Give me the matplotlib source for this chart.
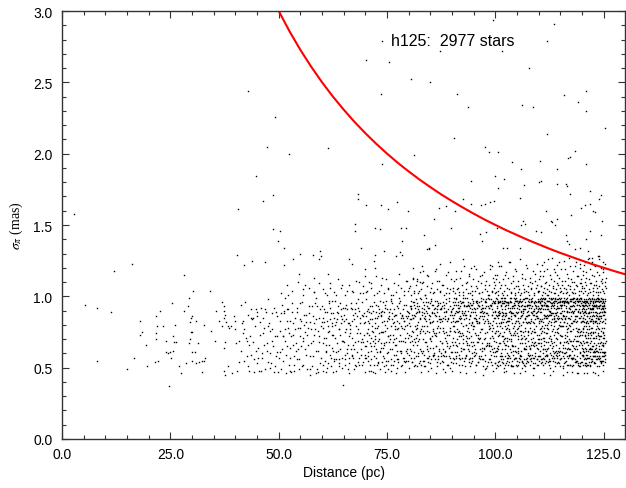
import matplotlib.pyplot as plt
import numpy as np
from matplotlib.ticker import MultipleLocator, FormatStrFormatter

plt.rcParams['font.family'] = ['Liberation Sans', 'DejaVu Sans']
plt.rcParams['mathtext.fontset'] = 'stix'

# sparse stars read one by one: (distance pc, sigma_pi mas)
near_stars = [
    (2.8, 1.58), (5.4, 0.94), (8.0, 0.92), (8.1, 0.55), (11.3, 0.89), (12.1, 1.18),
    (15.1, 0.49), (16.1, 1.23), (16.7, 0.57), (18.0, 0.83), (18.1, 0.73), (18.4, 0.75),
    (19.4, 0.66), (19.5, 0.51), (21.4, 0.54), (21.6, 0.86), (21.7, 0.70), (21.7, 0.74),
    (21.9, 0.79), (22.1, 0.55), (22.6, 0.90), (23.2, 0.79), (23.9, 0.69), (24.1, 0.61),
    (24.5, 0.60), (24.7, 0.37), (24.9, 0.61), (25.1, 0.57), (25.4, 0.95), (25.5, 0.62),
    (25.7, 0.72), (25.9, 0.68), (26.0, 0.80), (26.4, 0.68), (26.9, 0.51), (27.4, 0.46),
    (28.1, 1.15), (28.1, 0.90), (28.7, 0.53), (29.1, 0.93), (29.3, 0.99), (29.4, 0.67),
    (29.5, 0.82), (29.5, 0.70), (29.7, 0.85), (29.7, 0.75), (30.0, 0.75), (30.1, 0.86),
    (30.1, 0.61), (30.1, 0.55), (30.3, 1.04), (30.7, 0.61), (30.9, 0.53), (31.0, 0.83),
    (31.4, 0.67), (31.6, 0.54), (32.3, 0.55), (32.3, 0.47), (32.7, 0.80), (32.8, 0.55),
    (33.1, 0.57), (34.1, 1.04), (34.3, 0.76), (35.3, 0.69), (35.5, 0.90), (36.3, 0.83),
    (36.9, 0.79), (37.0, 0.96), (37.3, 0.93), (37.3, 0.90), (37.3, 0.85), (37.3, 0.64),
    (37.4, 0.48), (37.6, 0.87), (37.6, 0.45), (37.7, 0.68), (37.9, 0.82), (38.2, 0.79),
    (38.3, 0.51), (38.6, 0.78), (39.0, 0.79), (39.3, 0.46), (39.7, 0.86), (39.9, 0.83),
    (40.0, 0.77), (40.2, 0.67), (40.3, 0.48), (40.8, 0.69), (40.8, 0.54), (40.3, 1.29),
    (40.7, 1.61),
]

# stars above the main cloud, read one by one
high_stars = [
    (42.9, 2.44), (49.1, 2.26), (47.3, 2.05), (52.3, 2.00), (61.4, 2.04), (44.7, 1.84),
    (99.4, 2.94), (113.4, 2.91), (73.9, 2.79), (112.0, 2.79), (87.2, 2.72), (101.5, 2.72),
    (70.2, 2.66), (75.5, 2.64), (107.7, 2.60), (80.6, 2.52), (85.0, 2.50), (73.5, 2.42),
    (91.1, 2.42), (120.9, 2.44), (115.7, 2.41), (119.1, 2.36), (93.7, 2.33), (106.2, 2.34),
    (108.7, 2.33), (120.8, 2.30), (125.2, 2.18), (112.0, 2.14), (90.4, 2.11), (97.6, 2.05),
    (98.4, 2.01), (100.7, 2.01), (81.1, 1.99), (118.3, 2.02), (117.3, 1.98), (116.8, 1.97),
    (73.8, 1.93), (103.9, 1.94), (110.3, 1.95), (120.9, 1.93), (105.8, 1.89), (114.3, 1.89),
    (94.3, 1.81), (99.8, 1.84), (102.0, 1.82), (100.5, 1.76), (106.6, 1.78), (110.0, 1.80),
    (110.6, 1.81), (114.2, 1.79), (116.2, 1.79), (116.5, 1.77), (117.1, 1.72), (121.9, 1.74),
    (124.3, 1.71), (124.0, 1.68), (92.5, 1.68), (94.3, 1.65), (96.6, 1.64), (97.5, 1.65),
    (98.7, 1.66), (99.7, 1.67), (87.0, 1.62), (88.5, 1.63), (90.6, 1.60), (105.6, 1.69),
    (111.7, 1.60), (112.9, 1.53), (114.3, 1.54), (117.5, 1.57), (119.8, 1.62), (120.7, 1.64),
    (121.9, 1.65), (122.5, 1.60), (122.9, 1.59), (124.6, 1.53), (85.8, 1.54), (89.8, 1.48),
    (83.4, 1.43), (84.2, 1.33), (84.7, 1.34), (86.0, 1.36), (96.4, 1.44), (97.9, 1.45),
    (97.0, 1.39), (100.3, 1.48), (106.3, 1.53), (106.9, 1.51), (106.0, 1.50), (109.4, 1.46),
    (110.6, 1.45), (113.1, 1.52), (113.8, 1.50), (116.2, 1.43), (116.5, 1.39), (116.9, 1.37),
    (118.3, 1.33), (119.4, 1.34), (120.8, 1.40), (121.7, 1.46), (124.4, 1.43), (121.3, 1.32),
    (122.3, 1.27), (124.0, 1.28), (124.8, 1.24), (101.7, 1.34), (102.6, 1.34), (105.6, 1.34),
    (48.6, 1.71), (46.3, 1.67), (68.4, 1.72), (68.3, 1.68), (70.1, 1.64), (73.5, 1.64),
    (77.4, 1.66), (75.1, 1.61), (79.8, 1.60), (48.6, 1.47), (50.3, 1.46), (67.5, 1.51),
    (67.5, 1.46), (72.2, 1.48), (73.4, 1.47), (78.2, 1.48), (79.4, 1.48), (49.9, 1.39),
    (78.5, 1.39), (51.2, 1.34), (68.9, 1.34), (84.6, 1.33), (54.9, 1.30), (59.5, 1.32),
    (59.7, 1.28), (58.0, 1.29), (59.2, 1.26), (43.9, 1.25), (46.9, 1.24), (42.0, 1.22),
    (51.2, 1.22), (53.3, 1.26), (66.2, 1.26), (66.9, 1.23), (71.9, 1.25), (72.3, 1.29),
    (72.2, 1.20), (77.9, 1.31), (78.5, 1.29), (77.0, 1.28), (74.2, 1.32), (69.8, 1.19),
    (69.8, 1.14), (81.0, 1.20), (83.3, 1.18), (81.0, 1.12), (81.8, 1.11), (82.7, 1.10),
    (54.6, 1.16), (61.4, 1.16), (58.2, 1.13), (83.1, 1.21), (86.2, 1.19), (87.1, 1.23),
    (89.4, 1.24), (92.5, 1.26), (94.4, 1.20), (99.1, 1.21), (100.6, 1.24),
]

# dense cloud, one string per 10 pc slab; each entry "OOSS" or "OOSSS":
# OO = offset inside the slab in 0.1 pc, SS(S) = sigma in 0.01 mas
cloud_40 = """
1262 1581 1874 2155 2396 2669 2887 3148 3372 3591 3759 3984 4168 4347 4579 4791 4953 5186
5364 5548 5773 5992 6157 6385 6566 6778 6949 7189 7367 7554 7781 7960 8176 8353 8588 8765
8947 9172 9358 9586 9761 9947 1494 1977 2471 2758 3266 3685 4085 4456 4862 5257 5682 6048
6474 6891 7262 7679 8050 8477 8892 9251 9672 1783 3051 4989 6260 7598 8569 9389
"""
cloud_50 = """
0283 0461 0794 0972 1155 1388 1569 1746 1991 2178 2352 2583 2764 2947 3189 3373 3558 3785
3967 4192 4356 4578 4749 4984 5165 5396 5571 5752 5980 6163 6387 6549 6778 6993 7158 7382
7567 7751 7986 8173 8395 8562 8784 8949 9176 9368 9591 9757 9982 0157 0376 0688 0863 1072
1290 1477 1659 1883 2065 2291 2474 2657 2872 3095 3266 3481 3648 3877 4062 4289 4463 4656
4895 5072 5283 5451 5669 5887 6075 6259 6482 6673 6866 7088 7245 7477 7693 7869 8058 8281
8477 8646 8893 9062 9285 9472 9653 9879 0549 1599 2748 3552 4878 61108 7349 8599 9047
22101 55105 81103 05102 18108 31104 44110 57101 69106 82103 93109
"""
cloud_60 = """
0178 0352 0591 0866 1047 1283 1475 1697 1859 2088 2264 2481 2673 2856 3097 3248 3489 3662
3877 4053 4295 4481 4669 4838 5087 5256 5492 5677 5863 6049 6281 6474 6695 6858 7083 7266
7449 7688 7895 8061 8277 8454 8690 8881 9068 9252 9486 9673 9859 0093 0267 0482 0655 0871
1061 1289 1453 1676 1892 2057 2279 2497 2662 2885 3071 3256 3484 3693 3851 4077 4263 4486
4657 4892 5068 5275 5459 5684 5891 6066 6253 6477 6692 6859 7071 7287 7463 7652 7879 8086
8269 8498 8652 8874 9059 9287 9468 9681 9857 0148 0385 0571 0789 0962 1150 1379 1595 1766
1984 2151 2373 2588 2755 2980 3161 3382 3567 3788 3956 4173 4391 4550 4784 4969 5183 5352
5594 5760 5981 6172 6357 6580 6763 6991 7157 7384 7568 7791 7951 8174 8392 8557 8785 8963
9196 9370 9554 9788 9965 06102 19106 33101 47108 58104 72103 86110 94102 2547 6346
03105 11101 19109 27103 36112 44106 52101 61108 70104 78111 87102 95107
"""
cloud_70 = """
0082 0257 0469 0691 0873 1052 1288 1465 1679 1847 2096 2270 2463 2685 2854 3079 3291 3462
3687 3875 4058 4283 4467 4694 4852 5078 5261 5489 5673 5897 6052 6284 6468 6691 6877 7059
7262 7483 7656 7899 8073 8251 8487 8669 8894 9055 9279 9462 9685 9871 0165 0390 0555 0777
0948 1184 1362 1593 1775 1958 2181 2367 2589 2752 2993 3170 3349 3586 3764 3990 4175 4357
4592 4768 4983 5155 5372 5586 5763 5948 6195 6373 6559 6782 6966 7187 7350 7578 7795 7962
8185 8369 8552 8791 8977 9154 9386 9563 9780 9955 0047 0286 0474 0658 0881 1093 1271 1456
1684 1869 2052 2278 2494 2661 2886 3053 3274 3497 3667 3882 4064 4289 4451 4676 4897 5060
5285 5468 5691 5856 6079 6288 6452 6670 6887 7066 7293 7477 7654 7881 8097 8260 8478 8685
8857 9083 9271 9494 9660 9889 0198 0374 0583 0761 0989 1167 1348 1576 1790 1965 2172 2385
2557 2778 2969 3188 3361 3589 3775 3954 4196 4366 4580 4755 4991 5172 5349 5584 5770 5998
6163 6381 6555 6786 6979 7171 7356 7592 7769 7988 8162 8379 8586 8757 8983 9168 9355 9590
9774 9986 04104 14109 27102 39113 51106 63101 76108 88104 97111 2146 4547 7046 9147
02103 08110 13106 19101 25114 31104 36108 42102 48112 53105 59101 65109 71103 77116 82106
88101 93111 98104
"""
cloud_80 = """
0088 0263 0491 0672 0854 1085 1296 1468 1677 1893 2051 2282 2470 2699 2862 3087 3255 3479
3694 3868 4083 4257 4492 4675 4886 5064 5298 5482 5659 5891 6073 6286 6454 6697 6879 7062
7291 7484 7667 7859 8096 8274 8461 8689 8883 9052 9297 9476 9665 9890 0159 0384 0597 0776
0966 1151 1387 1592 1771 1980 2158 2393 2585 2763 2947 3189 3370 3551 3784 3996 4163 4388
4557 4792 4971 5150 5389 5576 5794 5960 6187 6372 6593 6756 6984 7178 7395 7560 7783 7949
8189 8362 8598 8775 8952 9184 9373 9557 9789 9968 0050 0279 0493 0662 0887 1075 1257 1486
1698 1866 2078 2291 2453 2684 2877 3060 3296 3488 3655 3874 4099 4279 4462 4687 4853 5081
5297 5472 5664 5888 6056 6274 6491 6683 6858 7086 7269 7492 7655 7878 8063 8294 8486 8658
8873 9091 9264 9487 9650 9882 0181 0368 0592 0754 0985 1161 1394 1579 1758 1989 2169 2390
2576 2755 2998 3179 3362 3585 3751 3990 4176 4365 4596 4758 4982 5169 5394 5558 5783 5974
6192 6365 6578 6795 6963 7184 7353 7591 7767 7985 8158 8384 8569 8795 8967 9152 9399 9576
9754 9987 0073 0293 0457 0684 0869 1096 1270 1452 1688 1873 2095 2260 2489 2674 2852 3092
3276 3459 3691 3886 4068 4293 4454 4684 4870 5095 5256 5488 5677 5859 6097 6265 6489 6651
6894 7075 7282 7458 7693 7876 8054 8292 8471 8690 8865 9085 9258 9493 9678 9861 03107 11102
18112 24104 31109 37101 43115 52106 58103 66111 72104 79108 85102 91117 96105 4448 6246 8447
01106 05101 09113 13104 17108 21102 25117 29105 33110 37101 41107 45114 49103 53109 57102
61118 65105 69111 73103 77108 81101 85115 89106 93102 97112
"""
cloud_90 = """
0091 0266 0487 0675 0899 1058 1283 1494 1672 1886 2062 2290 2479 2696 2855 3087 3272 3499
3663 3884 4093 4257 4480 4694 4868 5085 5291 5460 5687 5897 6073 6282 6456 6691 6886 7067
7298 7481 7659 7893 8075 8287 8492 8666 8881 9054 9295 9483 9669 9890 0153 0379 0594 0768
0983 1170 1392 1557 1785 1997 2164 2388 2573 2794 2951 3180 3369 3593 3778 3962 4187 4372
4598 4755 4989 5179 5363 5584 5792 5971 6158 6393 6575 6789 6962 7184 7370 7597 7755 7988
8166 8393 8577 8762 8994 9172 9387 9561 9796 9974 0061 0292 0476 0688 0857 1098 1265 1489
1676 1893 2081 2257 2496 2667 2884 3099 3258 3476 3694 3871 4066 4295 4453 4682 4897 5061
5274 5496 5652 5883 6094 6270 6489 6658 6894 7077 7288 7464 7692 7850 8084 8299 8467 8679
8856 9098 9276 9489 9664 9897 0185 0357 0579 0796 0966 1189 1375 1590 1752 1984 2172 2396
2563 2788 2957 3193 3380 3566 3794 3975 4151 4389 4565 4791 4977 5158 5385 5597 5768 5954
6181 6396 6563 6777 6992 7156 7389 7574 7796 7965 8188 8354 8592 8771 8993 9163 9380 9597
9758 9985 0048 0283 0499 0661 0890 1053 1277 1496 1659 1874 2095 2252 2487 2670 2893 3057
3285 3467 3690 3881 4056 4286 4494 4660 4879 5092 5259 5483 5673 5895 6054 6285 6471 6697
6864 7090 7251 7486 7671 7898 8051 8283 8465 8698 8878 9059 9291 9471 9685 9853 0171 0396
0556 0782 0994 1161 1383 1567 1792 1956 2185 2374 2599 2763 2990 3159 3387 3571 3796 3954
4192 4368 4581 4757 4995 5166 5389 5552 5781 5968 6193 6357 6586 6799 6956 7192 7363 7583
7749 7996 8167 8381 8556 8794 8965 9187 9352 9578 9795 9961 02106 08112 15103 21118 26101
33109 38114 45104 50121 56107 63102 69115 75108 81104 87119 92103 97110 12105 41102 59111
84101 3146 5347 7245 9448 1947
01104 04111 07102 10118 13106 16101 19113 22108 25103 28121 31105 34110 37102 40116 43107
46101 49112 52104 55119 58106 61102 64114 67109 70103 73117 76105 79111 82101 85108 88122
91104 94113 96106 98102 99115
"""
cloud_100 = """
0095 0281 0462 0689 0873 1097 1258 1486 1691 1869 2084 2297 2453 2678 2892 3065 3289 3496
3670 3855 4088 4294 4481 4657 4899 5077 5262 5491 5685 5873 6096 6250 6488 6693 6867 7082
7294 7459 7687 7896 8064 8283 8499 8671 8857 9091 9275 9488 9664 9896 0168 0392 0585 0751
0988 1174 1399 1563 1782 1995 2158 2386 2594 2769 2983 3170 3397 3551 3789 3965 4193 4374
4586 4752 4997 5183 5360 5597 5776 5989 6154 6382 6598 6770 6951 7186 7393 7575 7798 7963
8189 8355 8593 8782 8967 9194 9379 9552 9785 9997 0053 0276 0498 0665 0887 1058 1293 1472
1684 1856 2099 2271 2488 2657 2895 3080 3254 3492 3684 3866 4051 4279 4497 4665 4883 5051
5295 5479 5667 5890 6086 6255 6491 6672 6885 7056 7299 7473 7660 7887 8094 8270 8488 8653
8895 9077 9258 9493 9686 9852 0187 0364 0595 0772 0955 1196 1381 1558 1787 1970 2193 2363
2582 2755 2996 3176 3357 3588 3773 3992 4159 4387 4576 4797 4955 5189 5372 5593 5756 5986
6171 6398 6563 6791 6976 7165 7386 7554 7792 7978 8197 8357 8588 8766 8990 9160 9386 9573
9791 9958 0089 0258 0493 0676 0890 1067 1282 1497 1654 1888 2075 2299 2466 2683 2857 3095
3277 3463 3699 3881 4062 4292 4473 4698 4857 5088 5270 5496 5658 5880 6062 6294 6475 6656
6899 7071 7257 7494 7676 7858 8081 8296 8468 8690 8850 9087 9297 9466 9689 9870 0150 0386
0597 0763 0981 1152 1394 1578 1795 1967 2188 2352 2596 2771 2985 3158 3390 3569 3786 3951
4178 4399 4562 4789 4974 5152 5394 5581 5759 5993 6167 6390 6552 6784 6996 7163 7381 7590
7765 7952 8174 8398 8559 8787 8975 9153 9396 9585 9767 9993 0074 0299 0452 0687 0896 1079
1260 1495 1689 1853 2097 2279 2487 2660 2894 3052 3283 3499 3661 3893 4073 4256 4494 4687
4861 5097 5285 5457 5698 5876 6058 6297 6482 6664 6893 7053 7289 7469 7697 7882 8059 8292
8476 8657 8896 9065 9284 9492 9656 9898 0162 0379 0554 0796 0967 1188 1356 1599 1772 1950
2166 2391 2577 2796 2959 3185 3374 3596 3752 3988 4165 4395 4557 4783 4992 5164 5378 5554
5797 5970 6187 6353 6591 6778 6963 7199 7355 7582 7794 7956 8184 8366 8597 8750 8981 9168
9393 9556 9790 9963 01112 05104 09121 13108 17101 22115 26106 31124 35103 40111 44102 48118
53107 57101 61113 66105 70122 74103 79110 83106 88101 92116 96108 99103 1947 4246 6848 8745
2548 5746
00108 02103 04115 06101 08110 11106 13121 15102 17112 19104 22108 24117 26101 28113 31105
33124 35109 37102 40114 42106 44101 46119 48107 51103 53111 55105 57126 59102 62116 64108
66103 68112 71104 73120 75107 77101 79113 82105 84109 86118 88102 91111 93106 95123 97104
"""
cloud_110 = """
0092 0277 0456 0689 0898 1071 1285 1463 1694 1880 2059 2293 2471 2687 2899 3064 3288 3495
3657 3883 4097 4270 4486 4661 4894 5079 5257 5490 5686 5868 6097 6279 6452 6690 6885 7063
7298 7476 7693 7857 8088 8296 8463 8682 8894 9075 9251 9489 9697 9867 0167 0396 0583 0754
0991 1169 1387 1598 1762 1985 2177 2352 2596 2788 2969 3195 3358 3582 3797 3971 4153 4389
4596 4764 4982 5199 5361 5587 5795 5953 6184 6392 6569 6796 6980 7152 7391 7589 7762 7998
8170 8384 8555 8794 8969 9189 9397 9560 9782 9994 0055 0284 0499 0670 0893 1057 1296 1480
1668 1891 2097 2264 2487 2650 2892 3076 3299 3468 3685 3854 4091 4277 4462 4696 4873 5056
5288 5497 5664 5890 6060 6293 6477 6699 6857 7085 7269 7493 7651 7889 8077 8259 8497 8669
8886 9053 9298 9473 9661 9895 0183 0358 0597 0776 0952 1194 1371 1586 1755 1993 2168 2390
2560 2782 2995 3157 3393 3573 3788 3962 4195 4358 4584 4799 4968 5193 5379 5550 5786 5994
6171 6355 6589 6767 6992 7179 7352 7598 7781 7969 8193 8356 8591 8776 8958 9196 9372 9588
9754 9990 0081 0262 0494 0678 0856 1099 1275 1491 1659 1887 2063 2297 2483 2655 2898 3084
3262 3497 3679 3861 4088 4293 4454 4685 4897 5062 5294 5472 5658 5899 6085 6261 6496 6675
6895 7058 7284 7497 7666 7852 8099 8283 8454 8698 8872 9097 9266 9485 9653 9899 0170 0398
0567 0784 0960 1187 1398 1553 1793 1974 2191 2356 2589 2770 2998 3188 3365 3594 3751 3987
4160 4392 4578 4753 4996 5172 5394 5566 5782 5960 6197 6368 6581 6752 6989 7197 7363 7586
7757 7994 8164 8395 8578 8798 8955 9177 9394 9568 9786 9959 0097 0289 0465 0692 0879 1063
1294 1458 1686 1897 2078 2254 2499 2672 2887 3098 3255 3486 3692 3875 4059 4298 4474 4692
4856 5098 5279 5461 5697 5882 6054 6298 6472 6689 6864 7092 7276 7457 7698 7883 8057 8299
8472 8686 8863 9090 9277 9457 9699 9876 0158 0391 0574 0797 0963 1178 1356 1595 1785 1958
2186 2397 2566 2793 2959 3194 3377 3560 3799 3983 4175 4357 4598 4780 4951 5185 5396 5579
5757 5997 6164 6396 6558 6795 6970 7159 7397 7569 7790 7957 8183 8391 8565 8797 8983 9152
9391 9575 9798 9964 0073 0295 0483 0653 0894 1082 1266 1499 1674 1859 2094 2281 2455 2690
2880 3067 3296 3457 3684 3898 4066 4285 4492 4659 4888 5067 5292 5484 5651 5896 6073 6286
6463 6697 6878 7059 7293 7481 7656 7896 8065 8290 8486 8654 8899 9069 9285 9451 9693 9882
02114 04107 07122 10103 12118 15109 19101 21126 24104 28112 32107 34119 37102 41115 45108
47124 50103 54111 57106 60119 63102 67113 69127 72105 76110 80102 83121 86108 89114 93104
96123 98109 1246 3348 5545 7747 9146 2645 6447 8846
00112 01104 03118 05107 07101 09114 11106 13124 15102 17110 19105 20119 22101 24108 26115
28103 30127 32106 34111 36102 37117 39105 41109 43122 45101 47113 49106 51104 52119 54108
56102 58125 60111 62105 64103 66116 67108 69101 71121 73107 75112 77103 79118 81105 82110
84102 86124 88107 90114 92101 94109 95120 97104 98112 99106
"""
cloud_120 = """
0091 0178 0262 0385 0497 0556 0673 0789 0894 0959 1082 1168 1293 1371 1457 1588 1699 1764
1886 1952 2078 2197 2265 2384 2471 2593 2658 2786 2898 2963 3075 3194 3283 3356 3492 3579
3667 3798 3884 3951 4096 4172 4289 4363 4497 4578 4655 4791 4883 4966 5094 5178 5261 5389
0054 0188 0296 0369 0482 0593 0657 0784 0871 0998 1063 1186 1257 1395 1474 1563 1689 1797
1858 1983 2069 2291 2173 2355 2487 2596 2675 2753 2894 2982 3061 3297 3372 3486 3558 3693
3774 3865 3998 4081 4155 4294 4376 4453 4589 4698 4767 4855 4993 5071 5187 5254 5392 5469
0097 0163 0285 0352 0479 0598 0664 0797 0856 0988 1075 1196 1268 1381 1492 1554 1677 1898
1763 1991 2056 2184 2298 2363 2492 2574 2689 2761 2893 2958 3083 3198 3266 3389 3497 3551
3678 3799 3863 3988 4072 4194 4257 4385 4499 4566 4693 4774 4898 4961 5089 5173 5298 5356
0073 0194 0258 0383 0491 0567 0690 0752 0879 0996 1051 1183 1297 1362 1488 1579 1694 1751
1874 1997 2091 2163 2286 2399 2458 2583 2695 2771 2858 2989 3093 3162 3294 3377 3456 3685
3592 3761 3893 3977 4058 4186 4297 4368 4491 4558 4682 4797 4871 4952 5095 5160 5284 5397
0083 0159 0293 0377 0461 0589 0695 0772 0868 0953 1091 1177 1252 1398 1466 1589 1657 1783
1895 1971 2083 2154 2292 2378 2465 2597 2681 2854 2762 2997 3058 3185 3293 3364 3481 3599
3657 3784 3870 3956 4093 4167 4283 4355 4486 4592 4661 4758 4896 4975 5058 5193 5267 5381
0066 0192 0275 0358 0496 0587 0653 0794 0881 0962 1097 1159 1286 1373 1452 1594 1685 1761
1892 1967 2089 2175 2256 2394 2483 2561 2691 2798 2867 2953 3096 3171 3287 3393 3462 3588
3697 3773 3858 3992 4086 4161 4297 4372 4454 4589 4695 4765 4892 4987 5061 5190 5284 5359
01118 04106 07124 09113 13102 16127 19109 22115 25104 28122 31108 34117 37103 40126 43111
46105 49119 52107 54113 1146 2447 3645 4848 0546 3046
00107 01115 03102 04122 06110 07104 09117 10108 12101 13126 15112 16105 18119 19103 21109
22124 24106 25101 27114 28108 30121 31103 33111 34106 36128 37101 39115 40107 42103 43120
45109 46112 48104 49117 51102 52110 53123 54106
"""
cloud_slabs = [(40, cloud_40), (50, cloud_50), (60, cloud_60), (70, cloud_70),
               (80, cloud_80), (90, cloud_90), (100, cloud_100), (110, cloud_110),
               (120, cloud_120)]

# red limit curve
curve_dist = [50, 52.5, 55, 57.5, 60, 62.5, 65, 67.5, 70, 72.5, 75, 77.5, 80, 82.5, 85,
              87.5, 90, 92.5, 95, 97.5, 100, 102.5, 105, 107.5, 110, 112.5, 115, 117.5,
              120, 122.5, 125, 127.5, 130]
curve_sigma = [3.000, 2.857, 2.727, 2.609, 2.500, 2.400, 2.308, 2.222, 2.143, 2.069,
               2.000, 1.935, 1.875, 1.818, 1.765, 1.714, 1.667, 1.622, 1.579, 1.538,
               1.500, 1.463, 1.429, 1.395, 1.364, 1.333, 1.304, 1.277, 1.250, 1.224,
               1.200, 1.176, 1.154]


def decode(start, text):
    d, s = [], []
    for tok in text.split():
        d.append(start + int(tok[:2]) / 10.0)
        s.append(int(tok[2:]) / 100.0)
    return d, s


dist = [p[0] for p in near_stars] + [p[0] for p in high_stars]
sigma = [p[1] for p in near_stars] + [p[1] for p in high_stars]
for start, text in cloud_slabs:
    d, s = decode(start, text)
    dist += d
    sigma += s

fig = plt.figure(figsize=(6.26, 4.89), dpi=100)
ax = fig.add_axes([62 / 626, 49 / 489, 563.5 / 626, 428 / 489])

ax.plot(dist, sigma, 's', color='black', markersize=1.0, markeredgewidth=0, linestyle='none')
ax.plot(curve_dist, curve_sigma, color='#ff0000', linewidth=1.5)

ax.text(76.0, 2.79, 'h125:  2977 stars', fontsize=11.5, ha='left', va='center')

ax.set_xlim(0, 130)
ax.set_ylim(0, 3.0)
ax.xaxis.set_major_locator(MultipleLocator(25))
ax.xaxis.set_minor_locator(MultipleLocator(5))
ax.yaxis.set_major_locator(MultipleLocator(0.5))
ax.yaxis.set_minor_locator(MultipleLocator(0.1))
ax.xaxis.set_major_formatter(FormatStrFormatter('%.1f'))
ax.yaxis.set_major_formatter(FormatStrFormatter('%.1f'))

ax.tick_params(which='both', direction='in', top=True, right=True, width=0.8, colors='#333333',
               labelcolor='black', labelsize=10)
ax.tick_params(which='major', length=5)
ax.tick_params(which='minor', length=3)
ax.tick_params(axis='x', which='major', pad=6)
ax.tick_params(axis='y', which='major', pad=7)
for sp in ax.spines.values():
    sp.set_color('#333333')
    sp.set_linewidth(1.0)

ax.set_xlabel('Distance (pc)', fontsize=10, labelpad=3)
ax.set_ylabel(r'$\sigma_{\pi}$ (mas)', fontsize=10, family='Liberation Serif', labelpad=6)

fig.savefig('out.png', dpi=100)
